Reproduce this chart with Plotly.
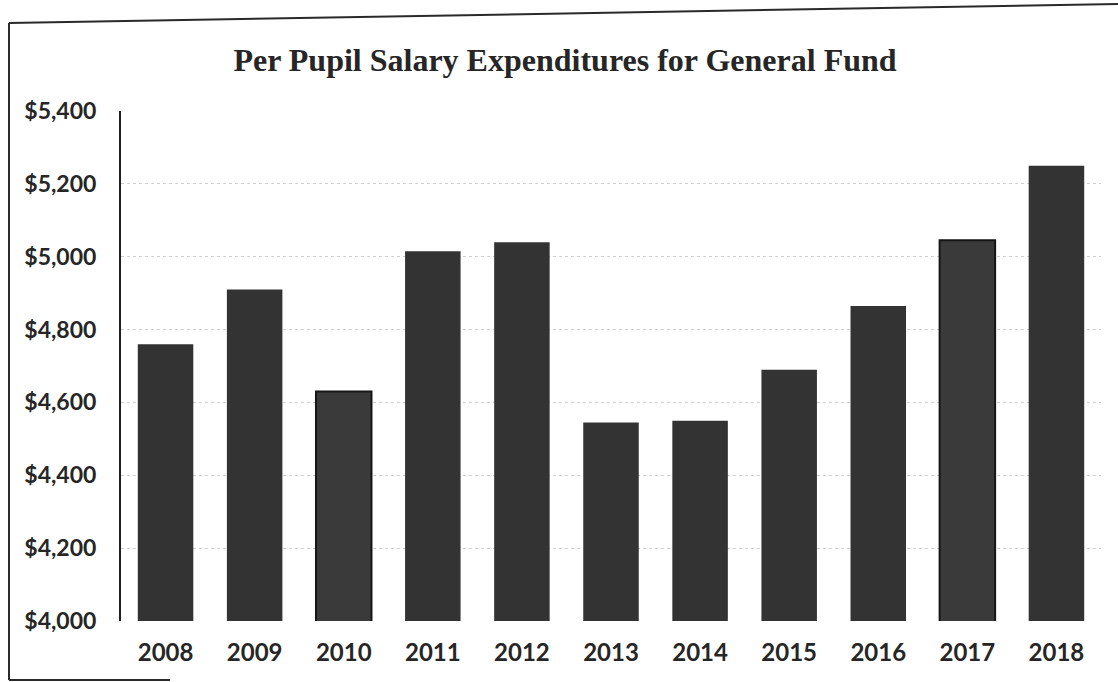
import plotly.graph_objects as go

# Per-pupil salary spending, general fund
years = ["2008", "2009", "2010", "2011", "2012", "2013",
         "2014", "2015", "2016", "2017", "2018"]
salary_per_pupil = [4760, 4910, 4630, 5015, 5040, 4545,
                    4550, 4690, 4865, 5045, 5250]
outlined_years = ["2010", "2017"]
y_ticks = [4000, 4200, 4400, 4600, 4800, 5000, 5200, 5400]
y_tick_labels = ["$4,000", "$4,200", "$4,400", "$4,600",
                 "$4,800", "$5,000", "$5,200", "$5,400"]

fill_colors = ["#3a3a3a" if y in outlined_years else "#333333" for y in years]
edge_widths = [2 if y in outlined_years else 0 for y in years]

fig = go.Figure(
    go.Bar(
        x=years,
        y=salary_per_pupil,
        marker=dict(color=fill_colors,
                    line=dict(color="#161616", width=edge_widths)),
        hoverinfo="x+y",
    )
)

fig.update_layout(
    width=1118,
    height=682,
    margin=dict(l=121, r=17, t=111, b=61),
    paper_bgcolor="white",
    plot_bgcolor="white",
    bargap=0.377,
    showlegend=False,
    title=dict(
        text="<b>Per Pupil Salary Expenditures for General Fund</b>",
        font=dict(family="Liberation Serif", size=32, color="#262626"),
        x=565 / 1118,
        xanchor="center",
        xref="container",
        y=0.912,
        yanchor="middle",
        yref="container",
    ),
)

fig.update_xaxes(
    type="category",
    showline=False,
    showgrid=False,
    ticks="outside",
    ticklen=10,
    tickcolor="rgba(0,0,0,0)",
    tickfont=dict(family="Lato", size=24, color="#262626", weight="bold"),
)

fig.update_yaxes(
    range=[4000, 5400],
    tickvals=y_ticks,
    ticktext=y_tick_labels,
    showline=True,
    linecolor="#1e1e1e",
    linewidth=2,
    showgrid=True,
    gridcolor="#cfcfcf",
    griddash="dot",
    gridwidth=1,
    zeroline=False,
    ticks="outside",
    ticklen=18,
    tickcolor="rgba(0,0,0,0)",
    tickfont=dict(family="Lato", size=23, color="#262626", weight="bold"),
)

# Page frame around the chart, in pixel positions converted to paper units
w_plot = 1118 - 121 - 17
h_plot = 682 - 111 - 61


def px_to_paper_x(px):
    return (px - 121) / w_plot


def px_to_paper_y(py):
    return (682 - 61 - py) / h_plot


frame = dict(color="#2a2a2a", width=2)
fig.add_shape(type="line", xref="paper", yref="paper",
              x0=px_to_paper_x(9), y0=px_to_paper_y(23),
              x1=px_to_paper_x(1118), y1=px_to_paper_y(4), line=frame)
fig.add_shape(type="line", xref="paper", yref="paper",
              x0=px_to_paper_x(9), y0=px_to_paper_y(23),
              x1=px_to_paper_x(9), y1=px_to_paper_y(680), line=frame)
fig.add_shape(type="line", xref="paper", yref="paper",
              x0=px_to_paper_x(9), y0=px_to_paper_y(680),
              x1=px_to_paper_x(170), y1=px_to_paper_y(680), line=frame)

fig.write_html("out.html")
